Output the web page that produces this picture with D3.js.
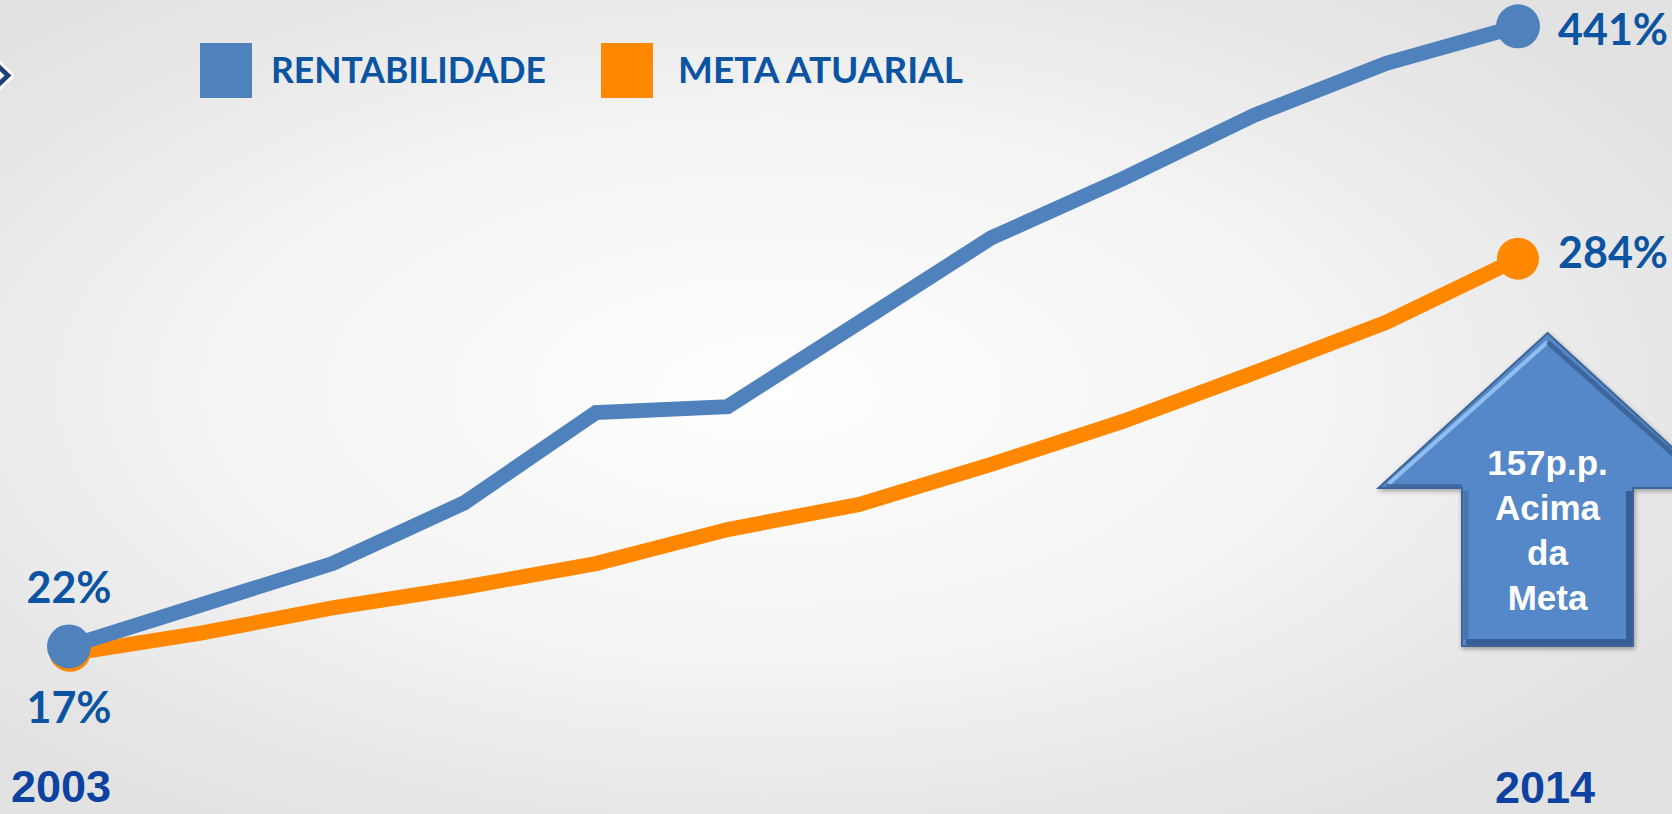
<!DOCTYPE html>
<html>
<head>
<meta charset="utf-8">
<script src="https://cdn.jsdelivr.net/npm/d3@7"></script>
<style>
  html, body { margin: 0; padding: 0; overflow: hidden; }
  svg { display: block; }
</style>
</head>
<body>
<svg id="chart" width="1672" height="814"></svg>
<script>
var years = [2003, 2004, 2005, 2006, 2007, 2008, 2009, 2010, 2011, 2012, 2013, 2014];
var rentabilidade = [22, 50, 78, 119, 180, 184, 241, 298, 338, 381, 416, 441];
var metaAtuarial = [17, 31, 48, 62, 78, 101, 118, 145, 174, 207, 241, 284];
var seriesNames = ["RENTABILIDADE", "META ATUARIAL"];
var seriesColors = ["#4f81bd", "#ff8800"];
var arrowLines = ["157p.p.", "Acima", "da", "Meta"];

var W = 1672, H = 814;
var textBlue = "#0b54a1", yearBlue = "#0e42a0";
var pctFont = "Lato, 'Open Sans', sans-serif";
var armFont = "'Liberation Sans', Arial, sans-serif";

var svg = d3.select("#chart");
var defs = svg.append("defs");

// background: soft radial light
var bg = defs.append("radialGradient").attr("id", "bg_grad")
  .attr("cx", "46%").attr("cy", "48%").attr("r", "62%");
bg.append("stop").attr("offset", "0%").attr("stop-color", "#ffffff");
bg.append("stop").attr("offset", "55%").attr("stop-color", "#f3f3f3");
bg.append("stop").attr("offset", "100%").attr("stop-color", "#e2e2e2");
svg.append("rect").attr("width", W).attr("height", H).attr("fill", "url(#bg_grad)");

var x = d3.scaleLinear().domain([2003, 2014]).range([69, 1518]);
var y = d3.scaleLinear().domain([0, 450]).range([679, 13]);

// small chevron cut off at the left edge
var glow = defs.append("filter").attr("id", "glow").attr("x", "-50%").attr("y", "-50%")
  .attr("width", "200%").attr("height", "200%");
glow.append("feMorphology").attr("in", "SourceAlpha").attr("operator", "dilate").attr("radius", 2).attr("result", "d");
glow.append("feFlood").attr("flood-color", "#ffffff");
glow.append("feComposite").attr("in2", "d").attr("operator", "in").attr("result", "w");
var gm = glow.append("feMerge");
gm.append("feMergeNode").attr("in", "w");
gm.append("feMergeNode").attr("in", "SourceGraphic");
svg.append("path").attr("d", "M-4,64 L8,75.5 L-4,87")
  .attr("fill", "none").attr("stroke", "#1c3f78").attr("stroke-width", 5)
  .attr("filter", "url(#glow)");

// legend
var legend = svg.append("g");
var legendX = [200, 601], legendTextX = [271, 678], legendLen = [275, 285];
seriesNames.forEach(function(name, i) {
  legend.append("rect").attr("x", legendX[i]).attr("y", 43)
    .attr("width", 52).attr("height", 55).attr("fill", seriesColors[i]);
  legend.append("text").attr("x", legendTextX[i]).attr("y", 83)
    .attr("font-family", pctFont).attr("font-weight", 700).attr("font-size", 36)
    .attr("fill", textBlue)
    .attr("textLength", legendLen[i]).attr("lengthAdjust", "spacingAndGlyphs")
    .text(name);
});

// lines
var line = d3.line()
  .x(function(d, i) { return x(years[i]); })
  .y(function(d) { return y(d); });

var data = [metaAtuarial, rentabilidade];
var cols = [seriesColors[1], seriesColors[0]];
var radii = [21, 22];

data.forEach(function(vals, k) {
  svg.append("path").datum(vals)
    .attr("d", line)
    .attr("fill", "none")
    .attr("stroke", cols[k])
    .attr("stroke-width", 15)
    .attr("stroke-linejoin", "miter");
});
data.forEach(function(vals, k) {
  var last = vals.length - 1;
  svg.append("circle").attr("cx", x(years[0]) + (k === 0 ? 1 : 0))
    .attr("cy", y(vals[0]) - (k === 0 ? 3 : 0)).attr("r", radii[k]).attr("fill", cols[k]);
  svg.append("circle").attr("cx", x(years[last])).attr("cy", y(vals[last]))
    .attr("r", radii[k]).attr("fill", cols[k]);
});

// value labels
function pct(v) { return v + "%"; }
var lab = svg.append("g").attr("font-family", pctFont).attr("font-weight", 700)
  .attr("font-size", 43).attr("fill", textBlue);
lab.append("text").attr("x", x(2003)).attr("y", 603).attr("text-anchor", "middle").text(pct(rentabilidade[0]));
lab.append("text").attr("x", x(2003)).attr("y", 723).attr("text-anchor", "middle").text(pct(metaAtuarial[0]));
lab.append("text").attr("x", 1558).attr("y", y(rentabilidade[11]) + 19).text(pct(rentabilidade[11]));
lab.append("text").attr("x", 1558).attr("y", y(metaAtuarial[11]) + 9).text(pct(metaAtuarial[11]));

// year labels
var yl = svg.append("g").attr("font-family", armFont).attr("font-weight", 700)
  .attr("font-size", 45).attr("fill", yearBlue).attr("text-anchor", "middle");
yl.append("text").attr("x", 61).attr("y", 802).text(years[0]);
yl.append("text").attr("x", 1545).attr("y", 803).text(years[years.length - 1]);

// arrow
var ax = 1547.5, tipY = 333, baseY = 488, halfHead = 169, halfShaft = 85.5, botY = 646;
var arrowPts = [
  [ax, tipY], [ax + halfHead, baseY], [ax + halfShaft, baseY], [ax + halfShaft, botY],
  [ax - halfShaft, botY], [ax - halfShaft, baseY], [ax - halfHead, baseY]
];
var shadow = defs.append("filter").attr("id", "ashadow").attr("x", "-20%").attr("y", "-20%")
  .attr("width", "140%").attr("height", "140%");
shadow.append("feGaussianBlur").attr("in", "SourceAlpha").attr("stdDeviation", 2.5).attr("result", "b");
shadow.append("feOffset").attr("in", "b").attr("dx", 1).attr("dy", 2).attr("result", "o");
shadow.append("feComponentTransfer").attr("in", "o").attr("result", "o2")
  .append("feFuncA").attr("type", "linear").attr("slope", 0.35);
var sm = shadow.append("feMerge");
sm.append("feMergeNode").attr("in", "o2");
sm.append("feMergeNode").attr("in", "SourceGraphic");

var ag = svg.append("g");
ag.append("polygon").attr("points", arrowPts.map(function(p) { return p.join(","); }).join(" "))
  .attr("fill", "#5588c8").attr("stroke", "#3d6597").attr("stroke-width", 2)
  .attr("stroke-linejoin", "miter").attr("filter", "url(#ashadow)");
// bevel shading
ag.append("path")
  .attr("d", "M" + (ax - halfShaft + 4) + "," + (botY - 4) + " L" + (ax + halfShaft - 4) + "," + (botY - 4) +
    " L" + (ax + halfShaft - 4) + "," + (baseY + 3))
  .attr("fill", "none").attr("stroke", "#2f5282").attr("stroke-width", 6).attr("opacity", 0.75);
ag.append("path")
  .attr("d", "M" + (ax - halfShaft + 4) + "," + (baseY + 3) + " L" + (ax - halfShaft + 4) + "," + (botY - 6))
  .attr("fill", "none").attr("stroke", "#3e6aa0").attr("stroke-width", 5).attr("opacity", 0.6);
ag.append("path")
  .attr("d", "M" + (ax - halfHead + 10) + "," + (baseY - 4) + " L" + ax + "," + (tipY + 9))
  .attr("fill", "none").attr("stroke", "#9cc8f4").attr("stroke-width", 4).attr("opacity", 0.85);
ag.append("path")
  .attr("d", "M" + ax + "," + (tipY + 9) + " L" + (ax + halfHead - 10) + "," + (baseY - 4))
  .attr("fill", "none").attr("stroke", "#35598a").attr("stroke-width", 5).attr("opacity", 0.7);
ag.append("path")
  .attr("d", "M" + (ax - halfHead + 8) + "," + (baseY - 2) + " L" + (ax - halfShaft) + "," + (baseY - 2))
  .attr("fill", "none").attr("stroke", "#3c6496").attr("stroke-width", 4).attr("opacity", 0.7);

ag.selectAll("text.arm").data(arrowLines).enter().append("text")
  .attr("class", "arm")
  .attr("x", ax)
  .attr("y", function(d, i) { return 475 + i * 45; })
  .attr("text-anchor", "middle")
  .attr("font-family", armFont).attr("font-weight", 700).attr("font-size", 35)
  .attr("fill", "#ffffff")
  .text(function(d) { return d; });
</script>
</body>
</html>
